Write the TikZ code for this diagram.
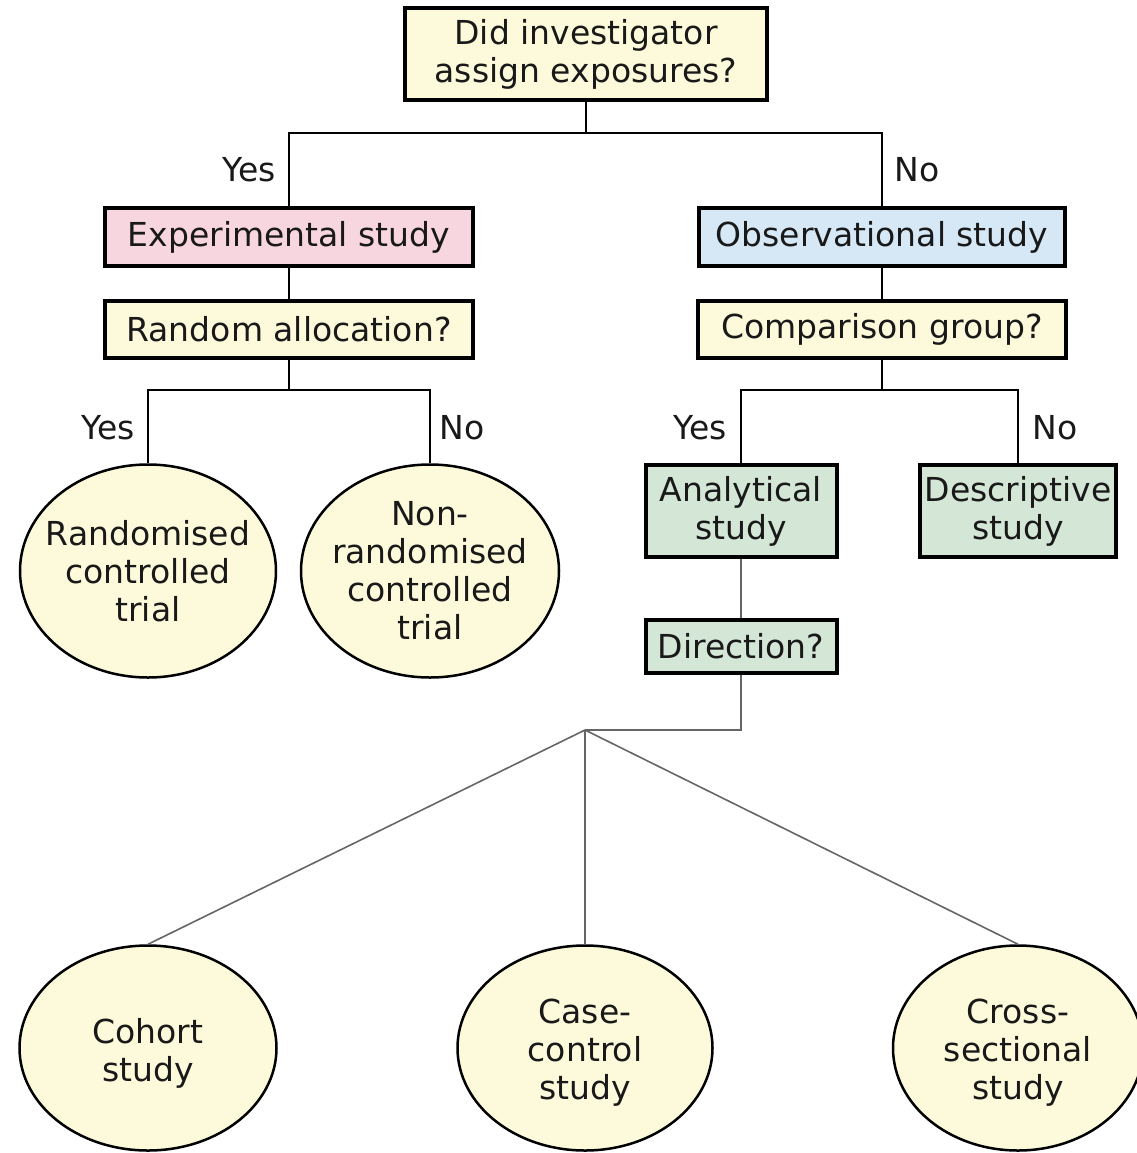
\documentclass[tikz,border=0pt]{standalone}
\usepackage{fontspec}
\setmainfont{DejaVu Sans}
\usetikzlibrary{shapes.geometric}
\definecolor{cream}{RGB}{252,250,218}
\definecolor{pinkf}{RGB}{248,214,224}
\definecolor{bluef}{RGB}{214,232,246}
\definecolor{greenf}{RGB}{212,230,214}
\begin{document}
\begin{tikzpicture}[x=1pt,y=-1pt,
  every node/.style={font=\fontsize{33}{38}\selectfont, text=black!90},
  boxn/.style={draw=black, line width=4pt, rectangle, inner sep=0pt, align=center},
  ell/.style={draw=black, line width=2.5pt, ellipse, fill=cream, inner sep=0pt},
  conn/.style={draw=black, line width=2pt},
  gconn/.style={draw=black!60, line width=1.6pt},
  lab/.style={inner sep=0pt}]
\useasboundingbox (0,0) rectangle (1136,1153);
\fill[white] (0,0) rectangle (1136,1153);

% boxes
\node[boxn, fill=cream, minimum width=362, minimum height=92] (top) at (586,54) {Did investigator\\assign exposures?};
\node[boxn, fill=pinkf, minimum width=368, minimum height=58] (exp) at (289,237) {Experimental study};
\node[boxn, fill=bluef, minimum width=366, minimum height=58] (obs) at (882,237) {Observational study};
\node[boxn, fill=cream, minimum width=368, minimum height=57] (rand) at (289,329) {Random allocation?};
\node[boxn, fill=cream, minimum width=368, minimum height=57] (comp) at (882,329) {Comparison group?};
\node[boxn, fill=greenf, minimum width=191, minimum height=92] (ana) at (741,511) {Analytical\\study};
\node[boxn, fill=greenf, minimum width=196, minimum height=92] (desc) at (1018,511) {Descriptive\\study};
\node[boxn, fill=greenf, minimum width=191, minimum height=53] (dir) at (741,646) {Direction?};

% ellipses
\node[ell, minimum width=256, minimum height=213] (rct) at (148,571) {};
\node[align=center] at (rct) {Randomised\\controlled\\trial};
\node[ell, minimum width=258, minimum height=213] (nrct) at (430,571) {};
\node[align=center] at (nrct) {Non-\\randomised\\controlled\\trial};
\node[ell, minimum width=257, minimum height=205] (coh) at (148,1048) {};
\node[align=center] at ([yshift=-5]coh) {Cohort\\study};
\node[ell, minimum width=255, minimum height=205] (cc) at (585,1048) {};
\node[align=center] at ([yshift=-5]cc) {Case-\\control\\study};
\node[ell, minimum width=250, minimum height=205] (cs) at (1018,1048) {};
\node[align=center] at ([yshift=-5]cs) {Cross-\\sectional\\study};

% junctions
\coordinate (j1) at (586,133);
\coordinate (j2) at (289,390);
\coordinate (j3) at (882,390);
\coordinate (j4) at (741,730);
\coordinate (j5) at (585,730);

% connectors
\draw[conn] (top.south) -- (j1);
\draw[conn] (exp.north) -- (exp.north |- j1) -- (obs.north |- j1) -- (obs.north);
\draw[conn] (exp.south) -- (rand.north);
\draw[conn] (obs.south) -- (comp.north);
\draw[conn] (rand.south) -- (j2);
\draw[conn] (rct.north) -- (rct.north |- j2) -- (nrct.north |- j2) -- (nrct.north);
\draw[conn] (comp.south) -- (j3);
\draw[conn] (ana.north) -- (ana.north |- j3) -- (desc.north |- j3) -- (desc.north);
\draw[gconn] (ana.south) -- (dir.north);
\draw[gconn] (dir.south) -- (j4) -- (j5);
\draw[gconn] (j5) -- (coh.north);
\draw[gconn] (j5) -- (cc.north);
\draw[gconn] (j5) -- (cs.north);

% labels
\node[lab] (y1) at (249,170) {Yes};
\node[lab] (n1) at (917,170) {No};
\node[lab] (y2) at (108,428) {Yes};
\node[lab] (n2) at (462,428) {No};
\node[lab] (y3) at (700,428) {Yes};
\node[lab] (n3) at (1055,428) {No};
\end{tikzpicture}
\end{document}
